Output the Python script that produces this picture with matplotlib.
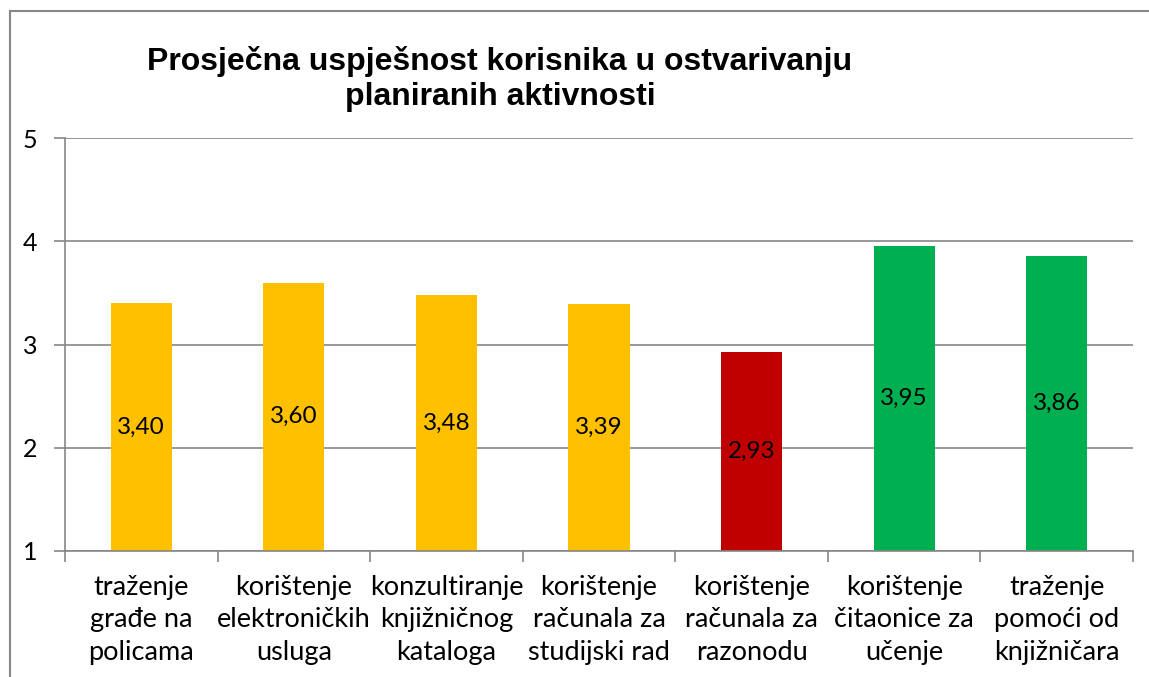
import numpy as np
import matplotlib
matplotlib.use("Agg")
import matplotlib.pyplot as plt
from matplotlib.lines import Line2D

categories = [
    "traženje\ngrađe na\npolicama",
    "korištenje\nelektroničkih\nusluga",
    "konzultiranje\nknjižničnog\nkataloga",
    "korištenje\nračunala za\nstudijski rad",
    "korištenje\nračunala za\nrazonodu",
    "korištenje\nčitaonice za\nučenje",
    "traženje\npomoći od\nknjižničara",
]
values = [3.40, 3.60, 3.48, 3.39, 2.93, 3.95, 3.86]
colors = ["#FFC000", "#FFC000", "#FFC000", "#FFC000", "#C00000", "#00B050", "#00B050"]
yticks = [1, 2, 3, 4, 5]
title = "Prosječna uspješnost korisnika u ostvarivanju\nplaniranih aktivnosti"

label_font = "Lato"
grey = "#868686"

fig = plt.figure(figsize=(11.49, 6.77), dpi=100)
ax = fig.add_axes([65 / 1149, 126 / 677, (1133 - 65) / 1149, (551 - 138) / 677])

x = np.arange(len(values))
ax.bar(x, values, width=0.4, color=colors, zorder=2)
for xi, v in zip(x, values):
    ax.text(xi, (1 + v) / 2, f"{v:.2f}".replace(".", ","), ha="center", va="center",
            fontsize=17.5, family=label_font, color="black", zorder=3)

ax.set_xlim(-0.5, len(values) - 0.5)
ax.set_ylim(1, 5)
ax.set_yticks(yticks)
ax.set_yticklabels([str(t) for t in yticks], fontsize=18, family=label_font)
ax.yaxis.grid(True, color=grey, linewidth=1.2, zorder=0)

ax.set_xticks(x)
ax.set_xticklabels(categories, fontsize=19.5, family=label_font, linespacing=1.38)
ax.set_xticks(np.arange(len(values) + 1) - 0.5, minor=True)
ax.tick_params(axis="x", which="major", length=0, pad=17)
ax.tick_params(axis="x", which="minor", length=8, color=grey, width=1.2)
ax.tick_params(axis="y", length=8, color=grey, width=1.2, pad=12)

for s in ["top", "right"]:
    ax.spines[s].set_visible(False)
for s in ["left", "bottom"]:
    ax.spines[s].set_color(grey)
    ax.spines[s].set_linewidth(1.2)

fig.text(500 / 1149, 1 - 79 / 677, title, ha="center", va="center",
         fontsize=23, fontweight="bold", family="Liberation Sans", linespacing=1.2)

# chart border (left and top edges visible)
fig.add_artist(Line2D([10 / 1149, 10 / 1149], [0, 1 - 11 / 677], color=grey,
                      linewidth=1.5, transform=fig.transFigure))
fig.add_artist(Line2D([10 / 1149, 1], [1 - 11 / 677, 1 - 11 / 677], color=grey,
                      linewidth=1.5, transform=fig.transFigure))

fig.savefig("out.png", dpi=100)
